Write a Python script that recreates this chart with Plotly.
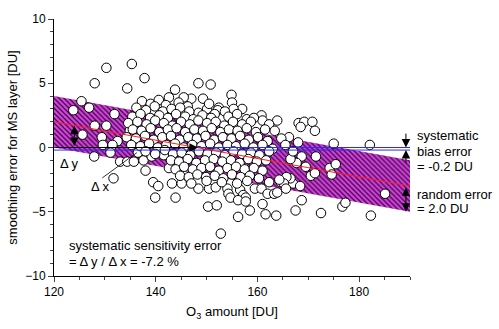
import plotly.graph_objects as go

# ---------------- data ----------------
x_range = [120, 190]
fit_x = [120, 190]
fit_y = [2.0, -3.0]          # linear fit (sensitivity error -7.2 %)
random_error = 2.0
bias_error = -0.2
zero_cross = 148.3           # where the fit crosses 0

sparse_points = [
    (130.3, 6.2), (135.3, 6.5), (128.0, 5.0), (134.4, 4.6), (137.8, 5.4),
    (125.4, 3.6), (123.8, 2.9), (126.9, 3.1), (131.9, 2.6), (128.0, 1.7),
    (130.3, 1.7), (125.6, 1.0), (129.4, 0.8), (134.9, 1.3), (132.5, 0.5),
    (127.9, -0.7), (131.7, -2.4), (138.0, -1.8), (139.5, -2.7), (140.5, -3.0),
    (139.9, -3.9), (129.6, 0.2), (131.5, 0.2), (131.1, -0.4), (133.0, -1.1),
    (134.4, -1.1), (135.7, -1.1), (136.5, -0.4), (137.6, -1.0), (139.2, -0.7),
    (141.6, -0.6), (142.6, -1.6), (143.9, -3.9), (143.2, -2.8), (145.1, -2.8),
    (148.4, -3.2), (150.3, -4.6), (152.0, -4.5), (152.8, -6.7), (156.2, -5.4),
    (158.5, -4.9), (150.5, -3.2), (151.8, -3.1), (154.1, -3.2), (154.3, -3.6),
    (154.7, -3.9), (156.6, -3.3), (157.2, -3.7), (157.7, -3.9), (156.2, -4.1),
    (157.7, -4.2), (161.0, -4.4), (161.6, -5.2), (163.7, -5.3), (159.5, -3.2),
    (160.8, -3.2), (162.0, -3.6), (163.3, -3.6), (162.3, -2.7), (164.6, -2.7),
    (175.0, 0.3), (182.1, 0.2), (185.1, -3.6), (163.9, -3.5), (168.7, -4.1),
    (167.5, -4.9), (172.5, -5.1), (176.7, -4.6), (177.3, -4.3), (182.3, -5.3),
    (171.5, -0.7), (174.2, -1.6), (175.4, -1.3), (174.6, -2.1), (168.7, -0.7),
    (167.7, -1.2), (166.5, -0.9), (169.5, -1.5), (170.5, -2.2), (171.3, -2.0),
    (167.0, -2.8), (168.4, -3.0), (166.5, -2.4), (165.7, -2.3), (165.2, -2.8),
    (165.6, -3.2), (164.3, -2.5), (163.9, 2.1), (168.1, 1.9), (169.2, 2.0),
    (170.8, 2.0), (171.3, 1.3), (168.5, 1.6), (166.2, 0.8), (164.7, 0.7),
    (148.4, 5.0), (150.8, 4.9), (143.8, 4.5), (154.9, 4.1), (147.0, 3.8),
    (149.3, 3.8), (145.5, 3.9), (142.6, 3.9), (144.5, 3.5), (155.0, 3.5),
    (152.4, 3.1), (150.1, 3.0), (157.0, 3.0), (155.3, 3.0), (148.4, 2.7),
    (157.9, 2.2), (160.8, 2.5), (161.0, 2.1), (152.2, 2.9), (165.5, 0.2),
    (167.0, -0.3), (168.0, 0.4),
]

dense_points = [
    (137.3, 3.6), (139.0, 3.4), (140.6, 3.7), (142.0, 3.3), (146.3, 3.2), (150.5, 3.4),
    (136.2, 3.1), (138.1, 2.9), (139.8, 3.2), (141.4, 2.8), (143.1, 3.0), (144.8, 3.1),
    (146.6, 2.8), (151.6, 2.6), (153.6, 2.8),
    (135.4, 2.4), (137.0, 2.6), (138.9, 2.3), (140.7, 2.5), (142.4, 2.3), (144.0, 2.6),
    (145.8, 2.4), (147.4, 2.2), (149.2, 2.5), (150.9, 2.3), (154.3, 2.4), (156.0, 2.6),
    (159.3, 2.3),
    (134.6, 1.9), (136.4, 2.0), (138.2, 1.8), (139.9, 2.1), (141.6, 1.9), (143.3, 1.7),
    (145.0, 2.0), (146.7, 1.8), (148.4, 2.1), (150.1, 1.9), (151.8, 2.0), (153.5, 1.7),
    (155.2, 2.0), (157.0, 1.8), (158.7, 2.0), (162.3, 1.8),
    (135.5, 1.4), (137.2, 1.3), (139.0, 1.5), (140.7, 1.2), (142.4, 1.4), (144.1, 1.5),
    (145.8, 1.2), (147.6, 1.4), (149.3, 1.3), (151.0, 1.5), (152.7, 1.2), (154.4, 1.4),
    (156.1, 1.3), (157.9, 1.5), (159.7, 1.2), (161.5, 1.4), (163.4, 1.3),
    (134.3, 0.8), (136.1, 0.7), (137.9, 0.9), (139.6, 0.6), (141.3, 0.8), (143.0, 0.9),
    (144.7, 0.6), (146.4, 0.8), (148.1, 0.7), (149.8, 0.9), (151.5, 0.6), (153.2, 0.8),
    (154.9, 0.7), (156.6, 0.9), (158.3, 0.6), (160.1, 0.8), (162.0, 0.5),
    (135.2, 0.2), (137.0, 0.1), (138.7, 0.3), (140.4, 0.0), (142.1, 0.2), (143.8, 0.3),
    (145.5, 0.0), (147.2, 0.2), (149.0, 0.1), (150.7, 0.3), (152.4, 0.0), (154.1, 0.2),
    (155.8, 0.1), (157.5, 0.3), (159.2, 0.0), (161.0, 0.2), (163.0, -0.1),
    (138.0, -0.3), (139.9, -0.5), (141.8, -0.2), (143.4, -0.5), (145.1, -0.4), (146.8, -0.6),
    (148.5, -0.3), (150.2, -0.5), (151.9, -0.4), (153.6, -0.6), (155.3, -0.3), (157.0, -0.5),
    (158.7, -0.4), (160.4, -0.6), (162.3, -0.3),
    (143.0, -1.0), (144.6, -1.1), (146.3, -0.9), (148.0, -1.2), (149.7, -1.0), (151.4, -0.9),
    (153.1, -1.1), (154.8, -1.0), (156.5, -1.2), (158.2, -0.9), (159.9, -1.1), (161.7, -1.0),
    (143.9, -1.7), (145.6, -1.5), (147.3, -1.7), (149.0, -1.6), (150.7, -1.5), (152.4, -1.8),
    (154.1, -1.6), (155.8, -1.5), (157.5, -1.7), (159.3, -1.6), (161.0, -1.8),
    (144.8, -2.2), (146.5, -2.3), (148.2, -2.1), (149.9, -2.3), (151.6, -2.2), (153.3, -2.4),
    (155.0, -2.1), (156.7, -2.3), (158.5, -2.2), (160.3, -2.4),
    (147.0, -2.8), (150.0, -2.6), (153.0, -2.7), (156.0, -2.8), (158.0, -2.6),
]

pts = sparse_points + dense_points
o3 = [p[0] for p in pts]
err = [p[1] for p in pts]

# ---------------- figure ----------------
FONT = "Liberation Sans, Arial, sans-serif"
FS = 13
fig = go.Figure()

# hatched band: fit +/- random error
band_x = [fit_x[0], fit_x[1], fit_x[1], fit_x[0], fit_x[0]]
band_y = [fit_y[0] + random_error, fit_y[1] + random_error,
          fit_y[1] - random_error, fit_y[0] - random_error, fit_y[0] + random_error]
fig.add_trace(go.Scatter(
    x=band_x, y=band_y, mode="lines", fill="toself",
    line=dict(width=0, color="rgba(0,0,0,0)"),
    fillcolor="#e040e0",
    fillpattern=dict(shape="\\", bgcolor="#e040e0", fgcolor="#2a0b40",
                     size=3.5, solidity=0.35, fillmode="replace"),
    hoverinfo="skip", showlegend=False))

# scatter points
fig.add_trace(go.Scatter(
    x=o3, y=err, mode="markers",
    marker=dict(size=9.5, color="white", line=dict(color="black", width=1)),
    showlegend=False))

# zero line and bias line (blue)
fig.add_trace(go.Scatter(x=x_range, y=[0, 0], mode="lines",
                         line=dict(color="#2b2bff", width=1), showlegend=False))
fig.add_trace(go.Scatter(x=x_range, y=[bias_error, bias_error], mode="lines",
                         line=dict(color="#2b2bff", width=1), showlegend=False))
# fit line (red)
fig.add_trace(go.Scatter(x=fit_x, y=fit_y, mode="lines",
                         line=dict(color="#ff2020", width=1), showlegend=False))

ann = []
def arrow(x, y, ax, ay, both=False):
    ann.append(dict(x=x, y=y, ax=ax, ay=ay, xref="x", yref="y", axref="x", ayref="y",
                    showarrow=True, arrowhead=2, arrowsize=1.7, arrowwidth=1,
                    arrowcolor="black", text="",
                    arrowside="end+start" if both else "end",
                    startarrowhead=2, startarrowsize=1.7))

# delta x arrow along zero line
arrow(zero_cross, 0, fit_x[0], 0)
# delta y double arrow
arrow(124, 1.7, 124, 0.0, both=True)
# bias arrows
arrow(189.2, 0.0, 189.2, 1.2)
arrow(189.2, bias_error, 189.2, -1.3)
# random error double arrow
arrow(189.2, fit_y[1] - random_error, 189.2, fit_y[1], both=True)
# leader line for delta x
ann.append(dict(x=136.3, y=-0.4, ax=129.2, ay=-2.45, xref="x", yref="y",
                axref="x", ayref="y", showarrow=True, arrowhead=0,
                arrowwidth=0.8, arrowcolor="black", text=""))

def label(x, y, text, xref="x"):
    ann.append(dict(x=x, y=y, xref=xref, yref="y", text=text, showarrow=False,
                    xanchor="left", yanchor="middle",
                    font=dict(family=FONT, size=FS, color="black")))

label(120.7, -1.25, "Δ y")
label(126.8, -3.05, "Δ x")
label(122.6, -7.62, "systematic sensitivity error")
label(122.6, -8.9, "= Δ y / Δ x = -7.2 %")
RX = 1.014
label(RX, 0.9, "systematic", "paper")
label(RX, -0.3, "bias error", "paper")
label(RX, -1.5, "= -0.2 DU", "paper")
label(RX, -3.65, "random error", "paper")
label(RX, -4.75, "= 2.0 DU", "paper")

fig.update_layout(
    width=499, height=329,
    margin=dict(l=44, r=89, t=15, b=44),
    plot_bgcolor="white", paper_bgcolor="white",
    font=dict(family=FONT, size=FS, color="black"),
    annotations=ann,
    showlegend=False,
)
fig.update_xaxes(
    range=x_range, tickvals=[120, 140, 160, 180], ticks="outside", ticklen=5,
    minor=dict(dtick=5, ticks="outside", ticklen=3, tick0=120),
    showline=True, linecolor="black", linewidth=1, showgrid=False, zeroline=False,
    tickfont=dict(family=FONT, size=12),
    title=dict(text="O<sub>3</sub> amount [DU]", standoff=8,
               font=dict(family=FONT, size=FS)),
)
fig.update_yaxes(
    range=[-10, 10], tickvals=[-10, -5, 0, 5, 10], ticks="outside", ticklen=5,
    minor=dict(dtick=1, ticks="outside", ticklen=3, tick0=0),
    showline=True, linecolor="black", linewidth=1, showgrid=False, zeroline=False,
    tickfont=dict(family=FONT, size=12),
    title=dict(text="smoothing error for MS layer [DU]", standoff=4,
               font=dict(family=FONT, size=FS)),
)

fig.write_html("out.html")
